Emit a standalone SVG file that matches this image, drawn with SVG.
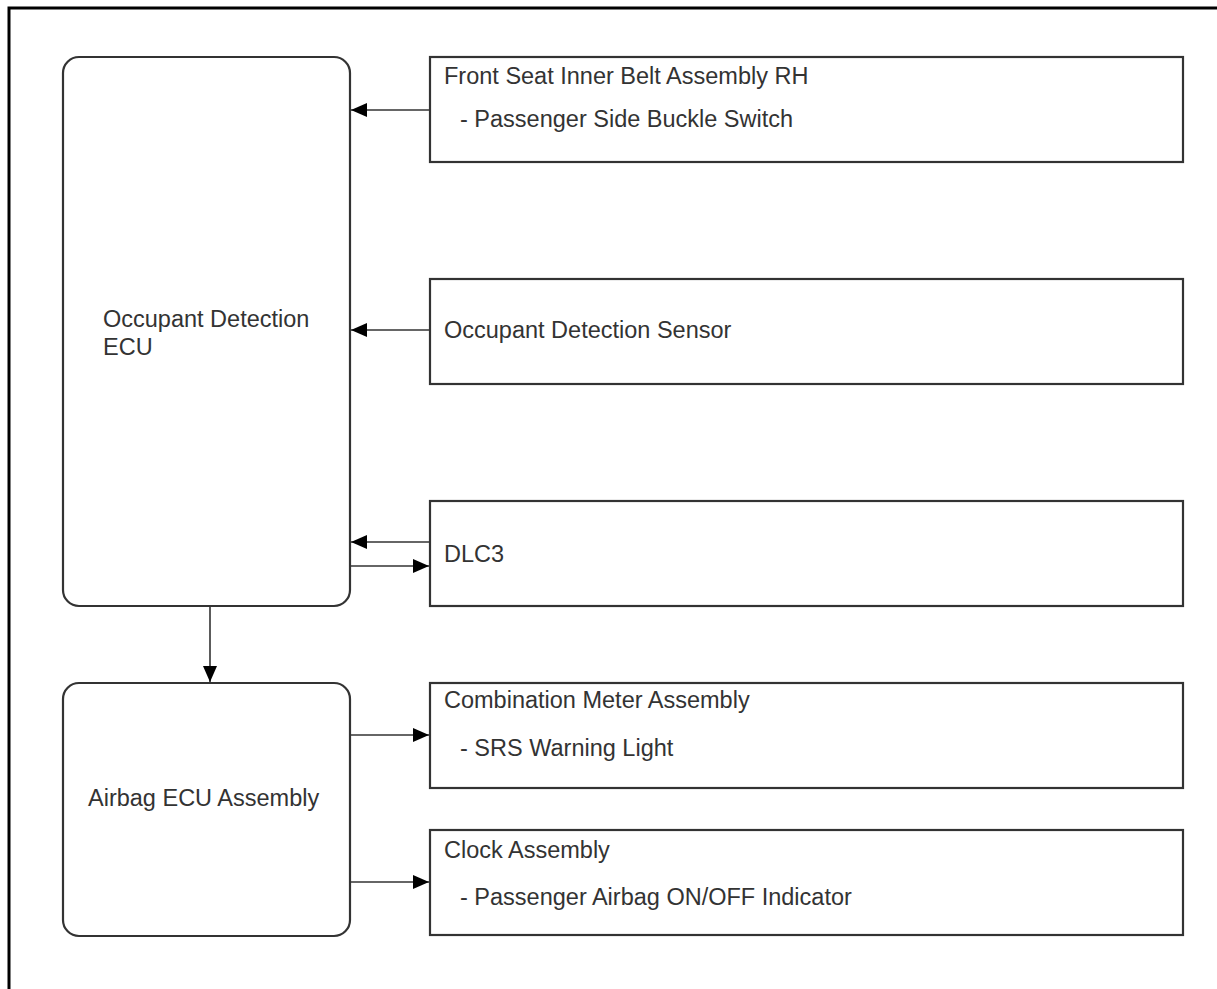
<svg xmlns="http://www.w3.org/2000/svg" width="1217" height="989" viewBox="0 0 1217 989">
<style>
.box{fill:#fff;stroke:#333;stroke-width:2.2}
.t{font-family:"Liberation Sans",Arial,sans-serif;font-size:23.5px;fill:#333}
.c{stroke:#333;stroke-width:1.6;fill:none}
</style>
<defs>
<marker id="ah2" viewBox="0 0 16 14" refX="16" refY="7" markerWidth="16" markerHeight="14" markerUnits="userSpaceOnUse" orient="auto">
<path d="M0,0 L16,7 L0,14 z" fill="#000"/>
</marker>
</defs>
<rect width="1217" height="989" fill="#fff"/>
<rect x="9" y="8" width="1230" height="1000" fill="none" stroke="#000" stroke-width="3"/>
<g id="occupant-ecu">
<rect class="box" x="63" y="57" width="287" height="549" rx="16"/>
<text class="t" x="103" y="327">Occupant Detection</text>
<text class="t" x="103" y="355">ECU</text>
</g>
<g id="front-seat">
<rect class="box" x="430" y="57" width="753" height="105"/>
<text class="t" x="444" y="84">Front Seat Inner Belt Assembly RH</text>
<text class="t" x="460" y="127">- Passenger Side Buckle Switch</text>
</g>
<g id="occupant-sensor">
<rect class="box" x="430" y="279" width="753" height="105"/>
<text class="t" x="444" y="338">Occupant Detection Sensor</text>
</g>
<g id="dlc3">
<rect class="box" x="430" y="501" width="753" height="105"/>
<text class="t" x="444" y="562">DLC3</text>
</g>
<g id="airbag-ecu">
<rect class="box" x="63" y="683" width="287" height="253" rx="16"/>
<text class="t" x="88" y="806">Airbag ECU Assembly</text>
</g>
<g id="combination-meter">
<rect class="box" x="430" y="683" width="753" height="105"/>
<text class="t" x="444" y="708">Combination Meter Assembly</text>
<text class="t" x="460" y="756">- SRS Warning Light</text>
</g>
<g id="clock">
<rect class="box" x="430" y="830" width="753" height="105"/>
<text class="t" x="444" y="858">Clock Assembly</text>
<text class="t" x="460" y="905">- Passenger Airbag ON/OFF Indicator</text>
</g>
<g id="connectors">
<line class="c" x1="430" y1="110" x2="351" y2="110" marker-end="url(#ah2)"/>
<line class="c" x1="430" y1="330" x2="351" y2="330" marker-end="url(#ah2)"/>
<line class="c" x1="430" y1="542" x2="351" y2="542" marker-end="url(#ah2)"/>
<line class="c" x1="350" y1="566" x2="429" y2="566" marker-end="url(#ah2)"/>
<line class="c" x1="210" y1="606" x2="210" y2="682" marker-end="url(#ah2)"/>
<line class="c" x1="350" y1="735" x2="429" y2="735" marker-end="url(#ah2)"/>
<line class="c" x1="350" y1="882" x2="429" y2="882" marker-end="url(#ah2)"/>
</g>
</svg>
